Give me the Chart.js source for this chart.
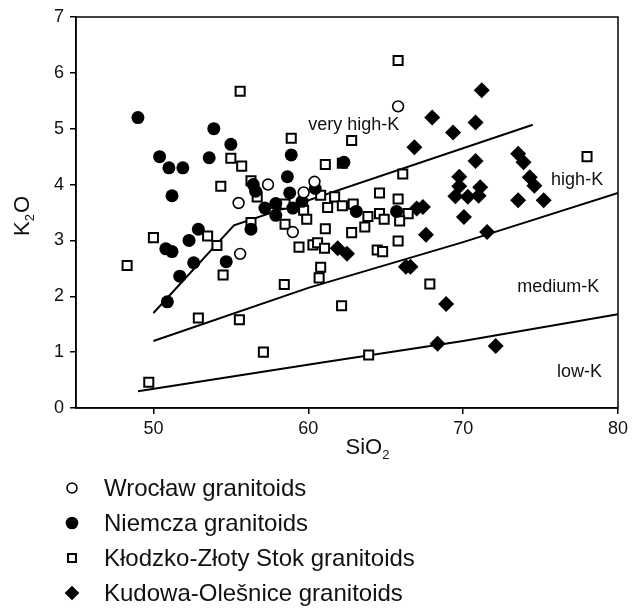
<!DOCTYPE html>
<html><head><meta charset="utf-8">
<script src="https://cdn.jsdelivr.net/npm/chart.js@4.4.1/dist/chart.umd.min.js"></script>
<style>html,body{margin:0;padding:0;background:#fff;} #c{display:block;}</style>
</head><body>
<canvas id="c" width="633" height="609"></canvas>
<script>
// ---- Data (SiO2 wt%, K2O wt%) ----
const wroclawSiO2 = [65.8, 57.4, 55.5, 59.7, 60.4, 55.6, 59.0];
const wroclawK2O  = [5.40, 4.00, 3.67, 3.86, 4.05, 2.76, 3.15];

const niemczaSiO2 = [49.0, 50.4, 51.0, 51.9, 51.2, 53.9, 53.6, 55.0, 58.9, 58.65, 58.8, 56.45, 56.6, 60.45, 57.2, 57.9, 57.9, 59.0, 59.6, 62.3, 63.1, 65.7, 52.9, 52.3, 50.8, 51.2, 52.6, 51.7, 50.9, 54.7, 56.3];
const niemczaK2O  = [5.20, 4.50, 4.30, 4.30, 3.80, 5.00, 4.48, 4.72, 4.53, 4.14, 3.85, 4.00, 3.88, 3.93, 3.58, 3.66, 3.45, 3.58, 3.70, 4.40, 3.52, 3.52, 3.20, 3.00, 2.85, 2.80, 2.60, 2.36, 1.90, 2.62, 3.20];

const klodzkoSiO2 = [55.6, 58.9, 55.0, 55.7, 54.35, 56.3, 56.7, 65.8, 62.8, 61.1, 62.2, 66.1, 78.0, 64.6, 65.8, 60.8, 61.7, 62.9, 62.2, 64.6, 66.45, 63.85, 58.5, 61.25, 59.7, 59.9, 61.1, 62.8, 58.5, 53.5, 54.1, 59.4, 60.3, 60.6, 61.05, 56.3, 54.5, 58.45, 60.8, 60.7, 62.15, 55.55, 52.9, 57.1, 50.0, 48.3, 49.7, 63.65, 64.9, 65.9, 64.45, 64.8, 65.8, 67.85, 63.9];
const klodzkoK2O  = [5.67, 4.83, 4.47, 4.33, 3.97, 4.07, 3.78, 6.22, 4.79, 4.36, 4.38, 4.19, 4.50, 3.85, 3.74, 3.81, 3.78, 3.65, 3.62, 3.48, 3.48, 3.43, 3.65, 3.59, 3.54, 3.38, 3.21, 3.14, 3.29, 3.08, 2.91, 2.88, 2.92, 2.96, 2.86, 3.32, 2.38, 2.21, 2.52, 2.33, 1.83, 1.58, 1.61, 1.00, 3.05, 2.55, 0.46, 3.24, 3.38, 3.35, 2.83, 2.80, 2.99, 2.22, 0.95];

const kudowaSiO2 = [71.2, 68.0, 70.8, 69.35, 66.85, 70.8, 73.55, 73.9, 69.75, 74.3, 74.6, 69.75, 71.1, 69.5, 70.3, 71.0, 73.55, 75.2, 67.0, 67.4, 70.05, 67.6, 71.55, 61.9, 62.5, 66.3, 66.6, 68.9, 68.35, 72.1];
const kudowaK2O  = [5.69, 5.20, 5.11, 4.93, 4.67, 4.42, 4.55, 4.40, 4.14, 4.13, 3.98, 3.97, 3.95, 3.79, 3.78, 3.80, 3.72, 3.72, 3.57, 3.60, 3.42, 3.10, 3.15, 2.86, 2.76, 2.53, 2.53, 1.86, 1.15, 1.11];

// Boundary lines
const veryHighSiO2 = [50.0, 55.2, 74.5];
const veryHighK2O  = [1.70, 3.27, 5.07];
const highSiO2 = [50.0, 60.0, 70.0, 80.0];
const highK2O  = [1.20, 2.15, 2.97, 3.85];
const lowSiO2 = [49.0, 61.0, 70.0, 80.0];
const lowK2O  = [0.30, 0.82, 1.20, 1.68];

const xTickValues = [50, 60, 70, 80];
const yTickValues = [0, 1, 2, 3, 4, 5, 6, 7];

const seriesNames = ['Wrocław granitoids', 'Niemcza granitoids', 'Kłodzko-Złoty Stok granitoids', 'Kudowa-Olešnice granitoids'];
const fieldLabels = ['very high-K', 'high-K', 'medium-K', 'low-K'];
const fieldLabelX = [60.0, 75.68, 73.5, 76.06];
const fieldLabelY = [5.07, 4.08, 2.17, 0.645];

const FONT = "'Liberation Sans', Arial, sans-serif";
const INK = '#111';

function pts(xs, ys) { return xs.map((x, i) => ({x: x, y: ys[i]})); }

const markerStyles = [
  {pointStyle: 'circle', pointRadius: 5.4, pointBorderWidth: 1.6, pointBackgroundColor: '#fff', pointBorderColor: '#000'},
  {pointStyle: 'circle', pointRadius: 6.5, pointBorderWidth: 0, pointBackgroundColor: '#000', pointBorderColor: '#000'},
  {pointStyle: 'rect', pointRadius: 6.4, pointBorderWidth: 2, pointBackgroundColor: '#fff', pointBorderColor: '#000'},
  {pointStyle: 'rectRot', pointRadius: 8, pointBorderWidth: 0, pointBackgroundColor: '#000', pointBorderColor: '#000'}
];
const legendRadius = [5, 6.3, 5.6, 7.3];

function lineDS(xs, ys) {
  return {type: 'line', data: pts(xs, ys), showLine: true, borderColor: '#000', borderWidth: 2,
          pointRadius: 0, fill: false, tension: 0, order: 10};
}

const datasets = [
  Object.assign({label: seriesNames[0], data: pts(wroclawSiO2, wroclawK2O), order: 1}, markerStyles[0]),
  Object.assign({label: seriesNames[1], data: pts(niemczaSiO2, niemczaK2O), order: 2}, markerStyles[1]),
  Object.assign({label: seriesNames[2], data: pts(klodzkoSiO2, klodzkoK2O), order: 3}, markerStyles[2]),
  Object.assign({label: seriesNames[3], data: pts(kudowaSiO2, kudowaK2O), order: 4}, markerStyles[3]),
  lineDS(veryHighSiO2, veryHighK2O),
  lineDS(highSiO2, highK2O),
  lineDS(lowSiO2, lowK2O)
];

function drawRich(ctx, parts, size) {
  let x = 0;
  parts.forEach(p => {
    const s = p.sub ? Math.round(size * 0.6) : size;
    ctx.font = s + 'px ' + FONT;
    ctx.fillText(p.t, x, p.sub ? size * 0.22 : 0);
    x += ctx.measureText(p.t).width + (p.sub ? 1 : 0);
  });
  return x;
}
function richWidth(ctx, parts, size) {
  let w = 0;
  parts.forEach(p => {
    const s = p.sub ? Math.round(size * 0.6) : size;
    ctx.font = s + 'px ' + FONT;
    w += ctx.measureText(p.t).width + (p.sub ? 1 : 0);
  });
  return w;
}

const decor = {
  id: 'decor',
  afterDatasetsDraw(chart) {
    const ctx = chart.ctx, a = chart.chartArea, xs = chart.scales.x, ys = chart.scales.y;
    ctx.save();
    ctx.strokeStyle = '#000'; ctx.lineWidth = 1.5;
    ctx.strokeRect(a.left, a.top, a.right - a.left, a.bottom - a.top);
    ctx.fillStyle = INK; ctx.font = '18px ' + FONT; ctx.textAlign = 'left'; ctx.textBaseline = 'middle';
    fieldLabels.forEach((t, i) => ctx.fillText(t, xs.getPixelForValue(fieldLabelX[i]), ys.getPixelForValue(fieldLabelY[i])));
    ctx.restore();
  },
  afterDraw(chart) {
    const ctx = chart.ctx;
    ctx.save();
    ctx.fillStyle = INK; ctx.textAlign = 'left'; ctx.textBaseline = 'alphabetic';
    const xt = [{t: 'SiO'}, {t: '2', sub: true}];
    const w = richWidth(ctx, xt, 22);
    ctx.save(); ctx.translate(368 - w / 2, 454); drawRich(ctx, xt, 22); ctx.restore();
    const yt = [{t: 'K'}, {t: '2', sub: true}, {t: 'O'}];
    const wy = richWidth(ctx, yt, 22);
    ctx.save(); ctx.translate(29, 216 + wy / 2); ctx.rotate(-Math.PI / 2); drawRich(ctx, yt, 22); ctx.restore();
    const rowsY = [488, 523, 558, 593];
    seriesNames.forEach((name, i) => {
      const st = markerStyles[i];
      const opts = {pointStyle: st.pointStyle, radius: legendRadius[i], borderWidth: st.pointBorderWidth, rotation: 0};
      ctx.fillStyle = st.pointBackgroundColor; ctx.strokeStyle = st.pointBorderColor; ctx.lineWidth = st.pointBorderWidth;
      Chart.helpers.drawPoint(ctx, opts, 72, rowsY[i]);
      ctx.fillStyle = INK; ctx.font = '24px ' + FONT; ctx.textBaseline = 'middle';
      ctx.fillText(name, 104, rowsY[i] + 1);
    });
    ctx.restore();
  }
};

new Chart(document.getElementById('c'), {
  type: 'scatter',
  data: {datasets: datasets},
  options: {
    responsive: false, animation: false, devicePixelRatio: 1,
    layout: {padding: {top: 17, right: 15, bottom: 171, left: 0}},
    plugins: {legend: {display: false}, tooltip: {enabled: false}},
    scales: {
      x: {
        type: 'linear', min: 45, max: 80,
        afterBuildTicks: s => { s.ticks = xTickValues.map(v => ({value: v})); },
        afterFit: s => { s.height = 30; },
        grid: {display: true, drawOnChartArea: false, drawTicks: true, tickLength: 6, color: '#000', lineWidth: 1.5},
        border: {display: true, color: '#000', width: 1.5},
        ticks: {color: INK, font: {family: FONT, size: 18}, padding: 4, maxRotation: 0}
      },
      y: {
        type: 'linear', min: 0, max: 7,
        afterBuildTicks: s => { s.ticks = yTickValues.map(v => ({value: v})); },
        afterFit: s => { s.width = 76; },
        grid: {display: true, drawOnChartArea: false, drawTicks: true, tickLength: 6, color: '#000', lineWidth: 1.5},
        border: {display: true, color: '#000', width: 1.5},
        ticks: {color: INK, font: {family: FONT, size: 18}, padding: 6}
      }
    }
  },
  plugins: [decor]
});
</script>
</body></html>
